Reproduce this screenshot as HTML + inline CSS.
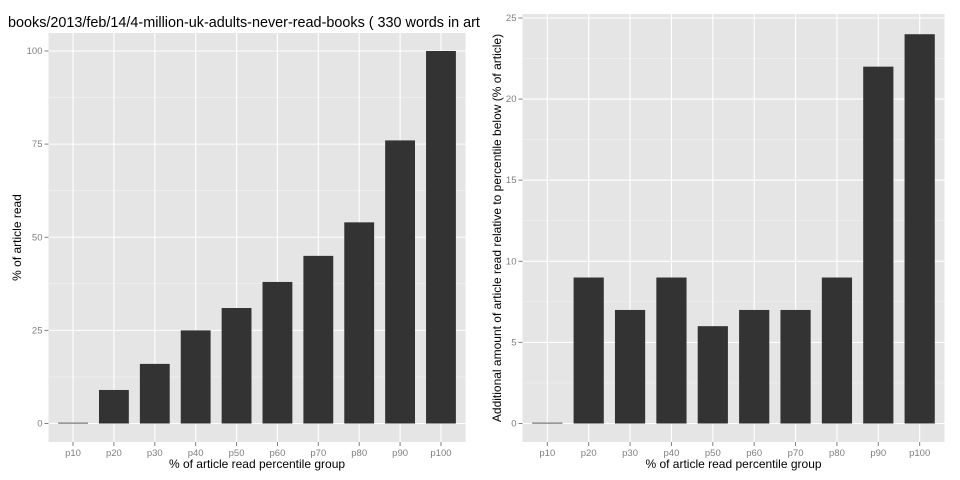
<!DOCTYPE html>
<html><head><meta charset="utf-8"><style>
body{margin:0;background:#fff;}
svg{display:block;font-family:"Liberation Sans",sans-serif;}
</style></head><body>
<svg id="c" width="960" height="480"><defs><clipPath id="lc"><rect x="0" y="0" width="480" height="480"/></clipPath></defs></svg>
<script>
const categories=["p10","p20","p30","p40","p50","p60","p70","p80","p90","p100"];
const cumValues=[0,9,16,25,31,38,45,54,76,100];
const addValues=[0,9,7,9,6,7,7,9,22,24];
const leftTicks=[0,25,50,75,100];
const rightTicks=[0,5,10,15,20,25];
const NS="http://www.w3.org/2000/svg";
const svg=document.getElementById('c');
function el(t,a,p){const e=document.createElementNS(NS,t);for(const k in a)e.setAttribute(k,a[k]);(p||svg).appendChild(e);return e;}
function panel(o){
  const g=el('g',{});
  
  
  const step=(o.x1-o.x0)/(categories.length-1+1.2);
  const xc=i=>o.x0+step*(0.6+i);
  const y=v=>o.yZero-(v-0)*(o.yZero-o.yRef)/o.ref;
  el('rect',{x:o.x0,y:o.top,width:o.x1-o.x0,height:o.bot-o.top,fill:'#e5e5e5'},g);
  const tk=o.ticks;
  for(let i=0;i<tk.length-1;i++){const m=(tk[i]+tk[i+1])/2;el('line',{x1:o.x0,x2:o.x1,y1:y(m),y2:y(m),stroke:'#f2f2f2','stroke-width':0.6},g);}
  const lm=tk[tk.length-1]+(tk[1]-tk[0])/2; if(y(lm)>o.top) el('line',{x1:o.x0,x2:o.x1,y1:y(lm),y2:y(lm),stroke:'#f2f2f2','stroke-width':0.6},g);
  tk.forEach(t=>{el('line',{x1:o.x0,x2:o.x1,y1:y(t),y2:y(t),stroke:'#fff','stroke-width':1.1},g);
    el('line',{x1:o.x0-4,x2:o.x0,y1:y(t),y2:y(t),stroke:'#7f7f7f'},g);
    const tx=el('text',{x:o.x0-6,y:y(t)+3,'text-anchor':'end','font-size':9.5,fill:'#7f7f7f'},g);tx.textContent=t;
    });
  categories.forEach((c,i)=>{el('line',{x1:xc(i),x2:xc(i),y1:o.top,y2:o.bot,stroke:'#fff','stroke-width':1.1},g);
    el('line',{x1:xc(i),x2:xc(i),y1:o.bot,y2:o.bot+4,stroke:'#7f7f7f'},g);
    const tx=el('text',{x:xc(i),y:o.bot+14,'text-anchor':'middle','font-size':9.5,fill:'#7f7f7f'},g);tx.textContent=c;
    });
  const bw=step*0.73;
  o.values.forEach((v,i)=>{const h=Math.max(y(0)-y(v),0.8);
    const r=el('rect',{x:xc(i)-bw/2,y:y(0)-h,width:bw,height:h,fill:'#333'},g);
    });
  const xt=el('text',{x:(o.x0+o.x1)/2,y:o.bot+26,'text-anchor':'middle','font-size':12,fill:'#000'},g);xt.textContent='% of article read percentile group';
  
  const cy=(o.top+o.bot)/2;
  const yt=el('text',{x:o.ytx,y:cy,'text-anchor':'middle','font-size':12,fill:'#000',transform:`rotate(-90 ${o.ytx} ${cy})`},g);yt.textContent=o.ytitle;
  
}
panel({name:'left-panel',x0:48.5,x1:465.5,top:33,bot:442,yZero:423.5,yRef:51,ref:100,ticks:leftTicks,values:cumValues,ytx:21,ytitle:'% of article read'});
panel({name:'right-panel',x0:522.5,x1:944.5,top:14,bot:442,yZero:423.5,yRef:18,ref:25,ticks:rightTicks,values:addValues,ytx:501,ytitle:'Additional amount of article read relative to percentile below (% of article)'});
const t=el('text',{x:8,y:27,'font-size':14.4,fill:'#000','clip-path':'url(#lc)'});t.textContent='books/2013/feb/14/4-million-uk-adults-never-read-books ( 330 words in art';

</script>
</body></html>
